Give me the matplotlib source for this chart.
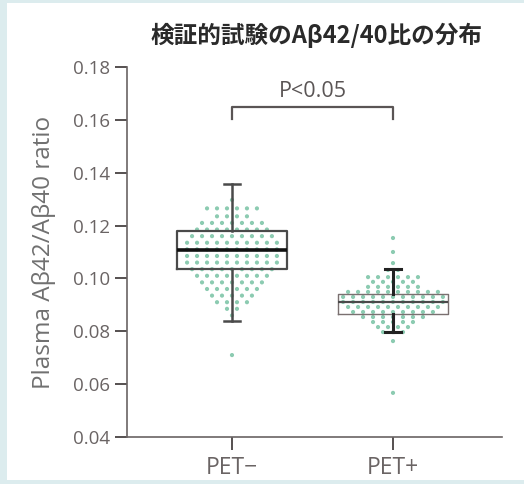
import matplotlib
matplotlib.use("Agg")
import matplotlib.pyplot as plt
from matplotlib.patches import Rectangle

# group labels
groups = ['PET\u2212', 'PET+']

# box statistics
medians = [0.1108, 0.0911]
q1s = [0.1036, 0.0865]
q3s = [0.1180, 0.0941]
whis_lo = [0.0839, 0.0797]
whis_hi = [0.1357, 0.1036]

# individual dots, as rows of equal value and the number of dots in each row
neg_rows = [0.1297, 0.1265, 0.1235, 0.1210, 0.1185, 0.1160, 0.1135, 0.1110, 0.1085,
            0.1060, 0.1035, 0.1010, 0.0985, 0.0960, 0.0935, 0.0910, 0.0885, 0.0860, 0.0710]
neg_counts = [1, 6, 4, 7, 8, 9, 10, 10, 10, 10, 9, 8, 7, 6, 5, 4, 2, 1, 1]
pos_rows = [0.1153, 0.1100, 0.1058, 0.1032, 0.1005, 0.0987, 0.0968, 0.0949, 0.0930,
            0.0911, 0.0892, 0.0873, 0.0854, 0.0835, 0.0816, 0.0797, 0.0763, 0.0567]
pos_counts = [1, 1, 1, 2, 6, 5, 6, 10, 11, 11, 10, 9, 7, 5, 4, 3, 1, 1]

p_text = 'P<0.05'
bracket_y = 0.1649
bracket_drop = 0.0046

fig = plt.figure(figsize=(5.24, 4.84), dpi=100)
fig.patch.set_facecolor('#dcecee')
fig.patches.append(Rectangle((7/524, 4/484), 1, 477/484, transform=fig.transFigure,
                             facecolor='white', edgecolor='none', zorder=-5))

ax = fig.add_axes([127/524, 47/484, 375/524, 370/484])
ax.set_facecolor('none')

dot_color = '#5bb590'
spacing = 0.062
for pos, rows, counts in [(0, neg_rows, neg_counts), (1, pos_rows, pos_counts)]:
    xs, ys = [], []
    for v, n in zip(rows, counts):
        for i in range(n):
            xs.append(pos + (i - (n - 1) / 2) * spacing)
            ys.append(v)
    ax.scatter(xs, ys, s=9, color=dot_color, alpha=0.7, edgecolors='none', zorder=2)

stats = []
for i in range(2):
    stats.append(dict(med=medians[i], q1=q1s[i], q3=q3s[i],
                      whislo=whis_lo[i], whishi=whis_hi[i], fliers=[]))
art = ax.bxp(stats, positions=[0, 1], widths=0.683, capwidths=0.105,
             showfliers=False, manage_ticks=False)
for el in ['boxes', 'medians', 'whiskers', 'caps']:
    for a in art[el]:
        a.set_zorder(3)

# PET- box: dark frame, heavy median
art['boxes'][0].set(color='#4a4a4a', linewidth=1.6)
art['medians'][0].set(color='#111111', linewidth=2.6)
for a in art['whiskers'][0:2] + art['caps'][0:2]:
    a.set(color='#4a4a4a', linewidth=1.8)
# PET+ box: thin frame, heavy whiskers
art['boxes'][1].set(color='#7a7070', linewidth=1.0)
art['medians'][1].set(color='#4a4a4a', linewidth=1.6)
for a in art['whiskers'][2:4] + art['caps'][2:4]:
    a.set(color='#222222', linewidth=2.2)

# significance bracket
ax.plot([0, 0, 1, 1], [bracket_y - bracket_drop, bracket_y, bracket_y, bracket_y - bracket_drop],
        color='#5a5555', linewidth=1.6, zorder=3)
ax.text(0.5, 0.1708, p_text, ha='center', va='center', fontsize=15.5,
        color='#5a5555', family='Open Sans')

ax.set_xlim(-0.652, 1.677)
ax.set_ylim(0.04, 0.18)
ax.set_yticks([0.04, 0.06, 0.08, 0.10, 0.12, 0.14, 0.16, 0.18])
ax.set_yticklabels(['0.04', '0.06', '0.08', '0.10', '0.12', '0.14', '0.16', '0.18'])
ax.set_xticks([0, 1])
ax.set_xticklabels(groups)

for s in ['top', 'right']:
    ax.spines[s].set_visible(False)
for s in ['left', 'bottom']:
    ax.spines[s].set_color('#6a6464')
    ax.spines[s].set_linewidth(1.2)
ax.tick_params(axis='both', direction='out', length=9, width=1.4, color='#555050',
               labelcolor='#6a6464')
ax.tick_params(axis='y', labelsize=13.5, pad=3)
ax.tick_params(axis='x', labelsize=16.5, pad=5)
for lab in ax.get_xticklabels() + ax.get_yticklabels():
    lab.set_family('Open Sans')

ax.set_ylabel('Plasma A\u03b242/A\u03b240 ratio', fontsize=17.5, color='#707070',
              family='Open Sans')
ax.yaxis.set_label_coords(-0.19, 0.5)

fig.text(316/524, 1 - 35/484, '検証的試験のA\u03b242/40比の分布', ha='center', va='center',
         fontsize=17, fontweight='bold', color='#2a2a2a',
         family=['Noto Sans CJK JP', 'DejaVu Sans'])

fig.savefig('out.png', dpi=100, facecolor=fig.get_facecolor())
